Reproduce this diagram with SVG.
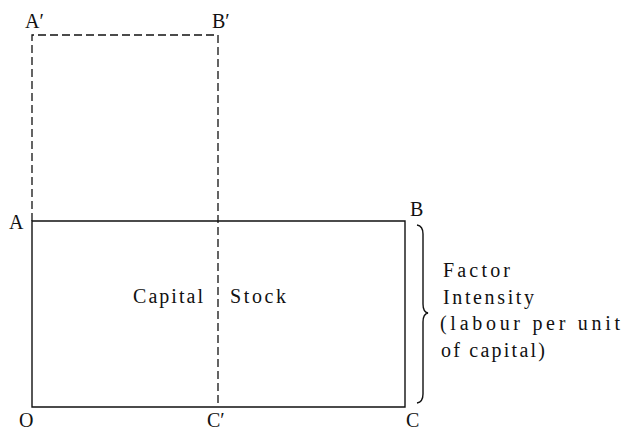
<svg xmlns="http://www.w3.org/2000/svg" width="623" height="430" viewBox="0 0 623 430">
<style>
.lbl{font-family:"Liberation Serif","DejaVu Serif",serif;font-size:20px;fill:#111}
.txt{font-family:"Liberation Serif","DejaVu Serif",serif;font-size:20px;fill:#111}
.solid{fill:none;stroke:#111;stroke-width:1.4}
.dash{fill:none;stroke:#111;stroke-width:1.3;stroke-dasharray:8 4}
</style>
<rect width="623" height="430" fill="#fff"/>
<g id="connectors">
<path class="dash" d="M32,221 V35 H218 V407"/>
</g>
<g id="rect-OABC">
<path class="solid" d="M32,221 H405 V407 H32 Z"/>
</g>
<g id="brace">
<path class="solid" d="M417,225 Q423,226 423,234 L423,304 Q423,312 428,313 Q423,314 423,322 L423,394 Q423,402 417,403"/>
</g>
<g id="labels">
<text class="lbl" x="25" y="28">A′</text>
<text class="lbl" x="212" y="28">B′</text>
<text class="lbl" x="9" y="229">A</text>
<text class="lbl" x="410" y="216">B</text>
<text class="lbl" x="19" y="427">O</text>
<text class="lbl" x="207" y="427">C′</text>
<text class="lbl" x="406" y="427">C</text>
</g>
<g id="capital-stock">
<text class="txt" x="133" y="303" textLength="70" lengthAdjust="spacing">Capital</text>
<text class="txt" x="230" y="303" textLength="56" lengthAdjust="spacing">Stock</text>
</g>
<g id="factor-intensity">
<text class="txt" x="443" y="277" textLength="67" lengthAdjust="spacing">Factor</text>
<text class="txt" x="443" y="304" textLength="91" lengthAdjust="spacing">Intensity</text>
<text class="txt" x="440" y="330" textLength="180" lengthAdjust="spacing">(labour per unit</text>
<text class="txt" x="441" y="357" textLength="104" lengthAdjust="spacing">of capital)</text>
</g>
</svg>
